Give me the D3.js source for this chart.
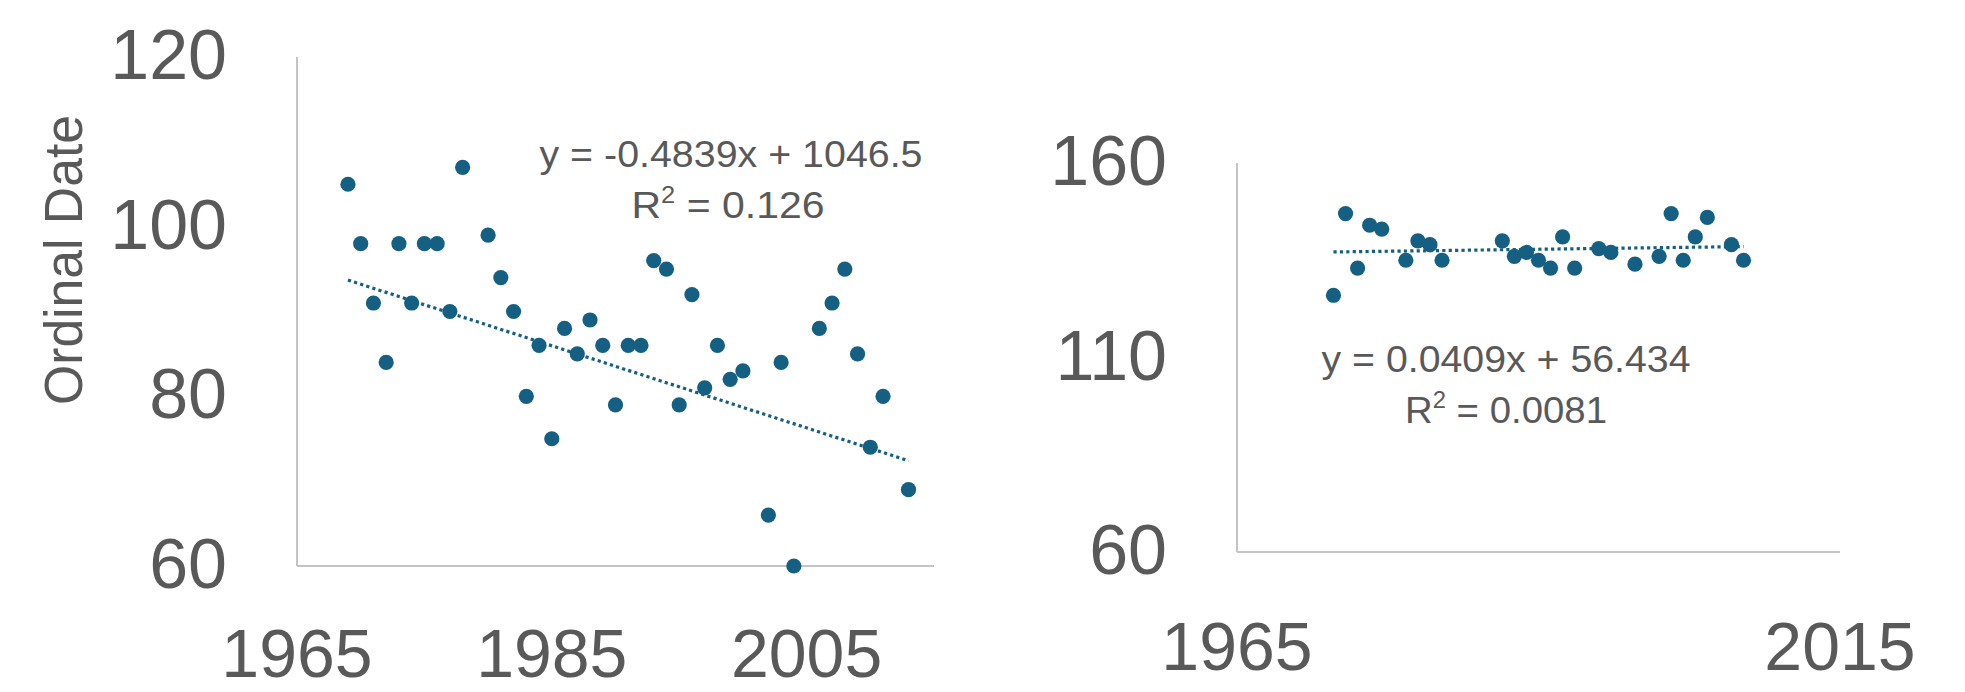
<!DOCTYPE html>
<html>
<head>
<meta charset="utf-8">
<script src="https://cdn.jsdelivr.net/npm/d3@7"></script>
<style>
  html, body { margin: 0; padding: 0; background: #ffffff; }
  svg { display: block; }
  text { font-family: "Liberation Sans", Arial, sans-serif; fill: #595959; }
</style>
</head>
<body>
<svg id="chart" width="1965" height="692"></svg>
<script>
// ---------- data ----------
const leftYears  = [1969,1970,1971,1972,1973,1974,1975,1976,1977,1978,1980,1981,1982,1983,1984,1985,1986,1987,1988,1989,1990,1991,1992,1993,1994,1995,1996,1997,1998,1999,2000,2002,2003,2004,2006,2007,2008,2009,2010,2011,2013];
const leftValues = [105,98,91,84,98,91,98,98,90,107,99,94,90,80,86,75,88,85,89,86,79,86,86,96,95,79,92,81,86,82,83,66,84,60,88,91,95,85,74,80,69];
const rightYears  = [1973,1974,1975,1976,1977,1979,1980,1981,1982,1987,1988,1989,1990,1991,1992,1993,1995,1996,1998,2000,2001,2002,2003,2004,2006,2007];
const rightValues = [126,147,133,144,143,135,140,139,135,140,136,137,135,133,141,133,138,137,134,136,147,135,141,146,139,135];

const leftXTicks  = [1965,1985,2005];
const leftYTicks  = [60,80,100,120];
const rightXTicks = [1965,2015];
const rightYTicks = [60,110,160];

const leftTrend  = [-0.4839, 1046.5];   // slope, intercept
const rightTrend = [0.0409, 56.434];
const leftEquation  = ["y = -0.4839x + 1046.5", "0.126"];
const rightEquation = ["y = 0.0409x + 56.434", "0.0081"];
const yAxisTitle = "Ordinal Date";

// ---------- drawing ----------
const svg = d3.select("#chart");
const DOT = "#156082";
const AXIS = "#c4c4c4";

function panel(cfg) {
  const x = d3.scaleLinear().domain(cfg.xDomain).range([cfg.left, cfg.right]);
  const y = d3.scaleLinear().domain(cfg.yDomain).range([cfg.bottom, cfg.top]);
  const g = svg.append("g");

  // axis lines
  g.append("line").attr("x1", x(cfg.xDomain[0])).attr("x2", x(cfg.xDomain[0]))
    .attr("y1", y(cfg.yDomain[0])).attr("y2", y(cfg.yDomain[1]))
    .attr("stroke", AXIS).attr("stroke-width", 2);
  g.append("line").attr("x1", x(cfg.xDomain[0])).attr("x2", x(cfg.xDomain[1]))
    .attr("y1", y(cfg.yDomain[0])).attr("y2", y(cfg.yDomain[0]))
    .attr("stroke", AXIS).attr("stroke-width", 2);

  // y tick labels
  g.selectAll(".yt").data(cfg.yTicks).enter().append("text")
    .attr("x", x(cfg.xDomain[0]) - 70)
    .attr("y", d => y(d) + 22)
    .attr("text-anchor", "end")
    .attr("font-size", 70)
    .text(d => d);

  // x tick labels
  g.selectAll(".xt").data(cfg.xTicks).enter().append("text")
    .attr("x", d => x(d))
    .attr("y", y(cfg.yDomain[0]) + cfg.xLabelOffset)
    .attr("text-anchor", "middle")
    .attr("font-size", 68)
    .text(d => d);

  // trend line (dotted)
  const ext = d3.extent(cfg.years);
  const tl = ext.map(v => [v, cfg.trend[0] * v + cfg.trend[1]]);
  g.append("path")
    .attr("d", d3.line().x(d => x(d[0])).y(d => y(d[1]))(tl))
    .attr("fill", "none").attr("stroke", DOT).attr("stroke-width", 3.2)
    .attr("stroke-dasharray", "3.2 3.2");

  // points
  g.selectAll(".pt").data(cfg.years.map((yr, i) => [yr, cfg.values[i]])).enter()
    .append("circle")
    .attr("cx", d => x(d[0])).attr("cy", d => y(d[1]))
    .attr("r", 7.6).attr("fill", DOT);

  // equation label
  g.append("text")
    .attr("x", cfg.eqX).attr("y", cfg.eqY)
    .attr("text-anchor", "middle").attr("font-size", 37)
    .attr("textLength", cfg.eqLen1).attr("lengthAdjust", "spacingAndGlyphs")
    .text(cfg.eq[0]);
  const r2 = g.append("text")
    .attr("x", cfg.eqX2).attr("y", cfg.eqY + 51)
    .attr("text-anchor", "middle").attr("font-size", 37)
    .attr("textLength", cfg.eqLen2).attr("lengthAdjust", "spacingAndGlyphs");
  r2.append("tspan").text("R");
  r2.append("tspan").attr("font-size", 23).attr("dy", -15).text("2");
  r2.append("tspan").attr("dy", 15).text(" = " + cfg.eq[1]);
  return {x, y};
}

panel({
  xDomain: [1965, 2015], yDomain: [60, 120],
  left: 297, right: 934, top: 57, bottom: 566,
  xTicks: leftXTicks, yTicks: leftYTicks, xLabelOffset: 111,
  years: leftYears, values: leftValues, trend: leftTrend,
  eq: leftEquation, eqX: 731, eqY: 167, eqLen1: 383, eqX2: 728, eqLen2: 193
});

panel({
  xDomain: [1965, 2015], yDomain: [60, 160],
  left: 1237, right: 1840, top: 163, bottom: 552,
  xTicks: rightXTicks, yTicks: rightYTicks, xLabelOffset: 118,
  years: rightYears, values: rightValues, trend: rightTrend,
  eq: rightEquation, eqX: 1506, eqY: 372, eqLen1: 369, eqX2: 1506, eqLen2: 202
});

// y axis title
svg.append("text")
  .attr("transform", "translate(82,260) rotate(-90)")
  .attr("text-anchor", "middle")
  .attr("font-size", 54)
  .attr("textLength", 290).attr("lengthAdjust", "spacingAndGlyphs")
  .text(yAxisTitle);
</script>
</body>
</html>
